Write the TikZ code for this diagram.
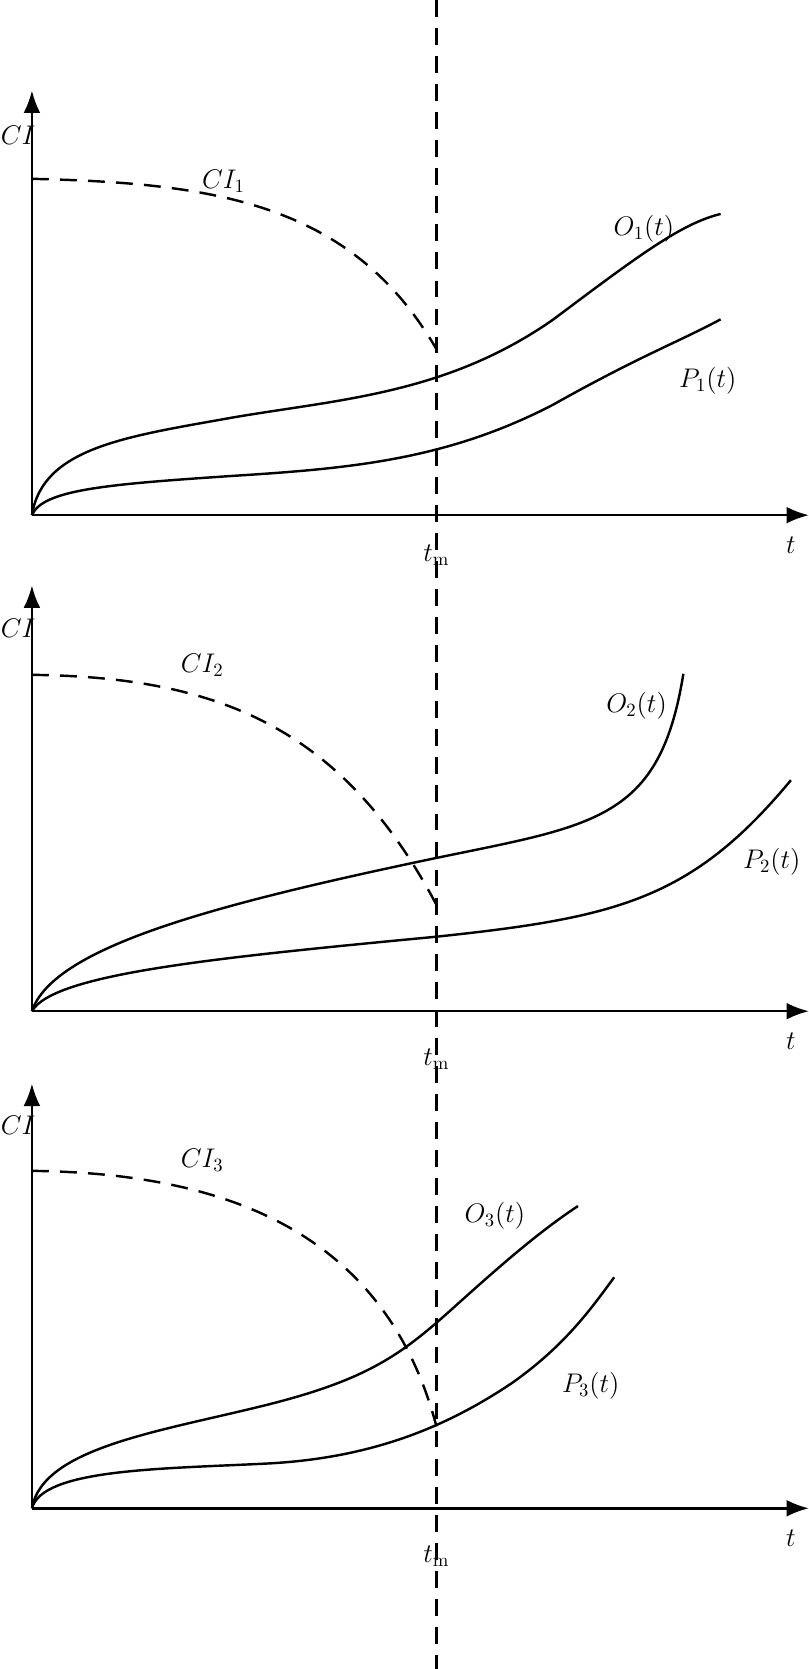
\documentclass[tikz,border=0pt]{standalone}
\usetikzlibrary{arrows.meta}
\begin{document}
\begin{tikzpicture}[x=0.02cm,y=-0.02cm,
  curve/.style={line width=1.3pt},
  dcurve/.style={line width=1.3pt,dash pattern=on 9pt off 6pt},
  axis/.style={line width=1.3pt,-{Latex[length=12pt,width=9pt]}},
  lbl/.style={font=\Large}]
\useasboundingbox (0,0) rectangle (760,1568);
\draw[dcurve] (410,0) -- (410,1568);
% panel 1
\draw[axis] (30,484) -- (30,85);
\draw[axis] (30,484) -- (760,484);
\node[lbl] (ci1) at (17,127) {$CI$};
\node[lbl] (t1) at (743,512) {$t$};
\node[lbl] (tm1) at (410,522) {$t_{\mathrm m}$};
\draw[dcurve] (30,168) .. controls (200,172) and (330,190) .. (410,328);
\node[lbl] at (210,170) {$CI_1$};
\draw[curve] (30,484) .. controls (40,420) and (120,410) .. (220,392) .. controls (320,375) and (420,370) .. (520,300) .. controls (600,240) and (640,210) .. (677,201);
\draw[curve] (30,484) .. controls (40,460) and (100,455) .. (220,447) .. controls (330,440) and (420,432) .. (520,380) .. controls (600,335) and (640,320) .. (677,300);
\node[lbl] at (605,215) {$O_1(t)$};
\node[lbl] at (665,358) {$P_1(t)$};
% panel 2
\draw[axis] (30,950) -- (30,550);
\draw[axis] (30,950) -- (760,950);
\node[lbl] at (17,590) {$CI$};
\node[lbl] at (743,978) {$t$};
\node[lbl] at (410,995) {$t_{\mathrm m}$};
\draw[dcurve] (30,634) .. controls (200,636) and (320,680) .. (410,850);
\node[lbl] at (190,625) {$CI_2$};
\draw[curve] (30,950) .. controls (50,890) and (200,850) .. (410,806) .. controls (560,775) and (620,770) .. (642,633);
\draw[curve] (30,950) .. controls (50,915) and (200,900) .. (410,880) .. controls (580,862) and (650,845) .. (743,733);
\node[lbl] at (598,663) {$O_2(t)$};
\node[lbl] at (725,810) {$P_2(t)$};
% panel 3
\draw[axis] (30,1417) -- (30,1018);
\draw[axis] (30,1417) -- (760,1417);
\node[lbl] at (17,1057) {$CI$};
\node[lbl] at (743,1445) {$t$};
\node[lbl] at (410,1462) {$t_{\mathrm m}$};
\draw[dcurve] (30,1100) .. controls (200,1102) and (360,1150) .. (410,1340);
\node[lbl] at (190,1090) {$CI_3$};
\draw[curve] (30,1417) .. controls (40,1360) and (150,1345) .. (250,1320) .. controls (350,1295) and (380,1270) .. (430,1225) .. controls (480,1180) and (510,1155) .. (543,1133);
\draw[curve] (30,1417) .. controls (40,1380) and (150,1380) .. (250,1375) .. controls (350,1370) and (420,1340) .. (480,1300) .. controls (530,1265) and (555,1230) .. (577,1200);
\node[lbl] at (465,1142) {$O_3(t)$};
\node[lbl] at (555,1302) {$P_3(t)$};
\end{tikzpicture}
\end{document}
